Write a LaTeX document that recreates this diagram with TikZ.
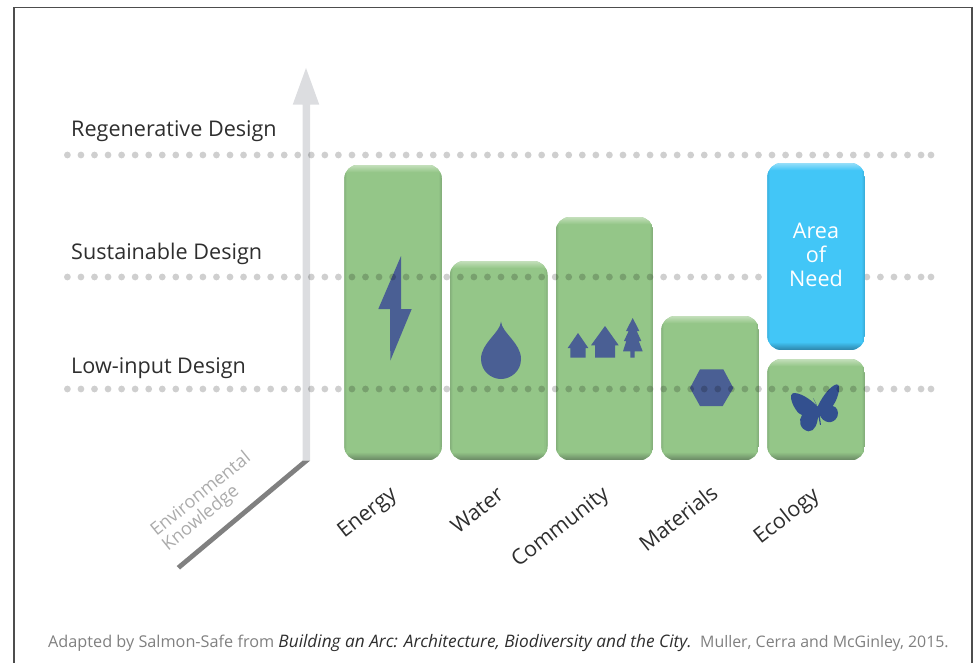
\documentclass[tikz,border=0pt]{standalone}
\usepackage{fontspec}
\setmainfont{Open Sans}
\definecolor{boxgreen}{HTML}{94C688}
\definecolor{boxgreenhi}{HTML}{C4DFBB}
\definecolor{boxgreenlo}{HTML}{6E8F68}
\definecolor{boxblue}{HTML}{42C6F7}
\definecolor{boxbluehi}{HTML}{96DEF9}
\definecolor{boxbluelo}{HTML}{2F8CB2}
\definecolor{iconblue}{HTML}{4A5F94}
\definecolor{flyblue}{HTML}{33508F}
\definecolor{axislight}{HTML}{DCDDE0}
\definecolor{axisdark}{HTML}{808080}
\definecolor{labeldark}{HTML}{2E2E2E}
\tikzset{
  x=1pt,y=-1pt,
  levellabel/.style={font=\fontsize{21.6}{22}\selectfont,text=labeldark,anchor=base west,inner sep=0pt},
  catlabel/.style={font=\fontsize{21.4}{22}\selectfont,text=labeldark,rotate=38,inner sep=0pt},
  icon/.style={fill=iconblue,draw=none},
  dotmark/.style={fill=black,fill opacity=.19,draw=none},
}
\newcommand{\barnode}[7]{% name, x, ytop, ybot, fill, hi, lo
  \begin{scope}
    \clip[rounded corners=14pt] (#2,#3) rectangle ({#2+97.5},#4);
    \fill[#5] (#2,#3) rectangle ({#2+97.5},#4);
    \foreach \s in {0,...,7}{
      \pgfmathtruncatemacro{\mixv}{100-\s*14}
      \fill[#6!\mixv!#5] (#2,{#3+\s}) rectangle ({#2+97.5},{#3+\s+1.1});
    }
    \foreach \s in {0,...,7}{
      \pgfmathtruncatemacro{\mixv}{100-\s*14}
      \fill[#7!\mixv!#5] (#2,{#4-\s-1.1}) rectangle ({#2+97.5},{#4-\s});
    }
    \foreach \s in {0,1,2}{
      \pgfmathtruncatemacro{\mixv}{40-\s*15}
      \fill[#7!\mixv!#5] ({#2+\s},{#3+8}) rectangle ({#2+\s+1.1},{#4-8});
      \fill[#7!\mixv!#5] ({#2+97.5-\s-1.1},{#3+8}) rectangle ({#2+97.5-\s},{#4-8});
    }
  \end{scope}
  \node[inner sep=0pt,draw=none,anchor=north west,minimum width=97.5pt,minimum height={#4pt-#3pt}] (#1) at (#2,#3) {};
}
\newcommand{\dotrow}[1]{%
  \foreach \k in {0,...,63}{ \fill[dotmark] ({67.4+13.55*\k},#1) circle (3.4); }
  \fill[dotmark] (931,#1) circle (3.4);
}
\begin{document}
\begin{tikzpicture}
\useasboundingbox (0,0) rectangle (976,663);
% frame
\draw[line width=1.2pt,color=labeldark!85] (14,663) -- (14,7.5) -- (972,7.5) -- (972,663);
% axes
\fill[axislight] (302.5,460.7) -- (302.5,104.7) -- (292.7,104.7) -- (306,68) -- (319.3,104.7) -- (310,104.7) -- (310,460.7) -- cycle;
\fill[axisdark] (302.5,460.7) -- (310,460.7) -- (180,569.5) -- (176.7,566) -- cycle;
% bars
\barnode{energy}{344.3}{164.7}{460.3}{boxgreen}{boxgreenhi}{boxgreenlo}
\barnode{water}{450}{261}{460.3}{boxgreen}{boxgreenhi}{boxgreenlo}
\barnode{community}{555.8}{217}{460.3}{boxgreen}{boxgreenhi}{boxgreenlo}
\barnode{materials}{661.3}{316}{460.3}{boxgreen}{boxgreenhi}{boxgreenlo}
\barnode{ecology}{767.3}{359}{460.3}{boxgreen}{boxgreenhi}{boxgreenlo}
% icons
\fill[icon] (401,256) -- (378.3,309) -- (390,309) -- (390.3,360.7) -- (411.7,309) -- (401,309) -- cycle;
\fill[icon] (501,321.7) .. controls (502,333) and (521,343) .. (521,359) .. controls (521,371) and (511,379) .. (501,379) .. controls (491,379) and (481,371) .. (481,359) .. controls (481,343) and (500,333) .. (501,321.7) -- cycle;
\fill[icon] (578,333) -- (588.3,348) -- (585.7,348) -- (585.7,357.7) -- (570.3,357.7) -- (570.3,348) -- (567.7,348) -- cycle;
\fill[icon] (605,326) -- (618.7,345.3) -- (615,345.3) -- (615,357.7) -- (595,357.7) -- (595,345.3) -- (591,345.3) -- cycle;
\fill[icon] (632.7,318) -- (639.3,331) -- (636.7,331) -- (641.3,341) -- (638.7,341) -- (642.7,351.3) -- (634.7,351.3) -- (634.7,357.7) -- (630.3,357.7) -- (630.3,351.3) -- (623,351.3) -- (626.3,341) -- (624,341) -- (628.7,331) -- (626,331) -- cycle;
\fill[icon] (690,388) -- (700,369.3) -- (723.3,369.3) -- (733.3,388) -- (722.7,406) -- (700,406) -- cycle;
\begin{scope}[shift={(780,370)},scale=0.3333]
  \fill[flyblue] (113,110) .. controls (90,85) and (55,65) .. (38,70) .. controls (28,75) and (33,95) .. (45,115) .. controls (50,125) and (55,130) .. (66,135) .. controls (55,150) and (58,178) .. (85,184) .. controls (105,185) and (112,160) .. (115,138) -- (120,165) -- (123,165) -- (119,135) .. controls (130,160) and (160,165) .. (172,140) .. controls (178,125) and (170,110) .. (158,108) .. controls (172,90) and (182,55) .. (175,45) .. controls (165,35) and (130,70) .. (113,110) -- cycle;
  \draw[flyblue,line width=.3pt] (110,105) -- (100,85);
\end{scope}
% dots
\dotrow{155}
\dotrow{277}
\dotrow{389}
% need box on top
\barnode{need}{767.3}{163}{350}{boxblue}{boxbluehi}{boxbluelo}
\node[font=\fontsize{21.6}{24}\selectfont,text=white,align=center,inner sep=0pt] (needtext) at (816,255) {Area\\of\\Need};
% level labels
\node[levellabel] (regen) at (71,137) {Regenerative Design};
\node[levellabel] (sust) at (71,259) {Sustainable Design};
\node[levellabel] (low) at (71,373) {Low-input Design};
% category labels
\node[catlabel] (l1) at (368,514) {Energy};
\node[catlabel] (l2) at (477,510) {Water};
\node[catlabel] (l3) at (561,528) {Community};
\node[catlabel] (l4) at (678,518) {Materials};
\node[catlabel] (l5) at (787,517) {Ecology};
\node[font=\fontsize{18}{18.5}\selectfont,text=black!33,rotate=39,align=left,inner sep=0pt] (env) at (207,502) {Environmental\\Knowledge};
% source
\node[font=\fontsize{16.25}{17}\selectfont,text=black!50,anchor=base west,inner sep=0pt] (src) at (48,647) {Adapted by Salmon-Safe from {\fontsize{17.25}{17}\selectfont\textcolor{labeldark}{\itshape Building an Arc: Architecture, Biodiversity and the City.}}\ \ {\fontsize{15.9}{17}\selectfont Muller, Cerra and McGinley, 2015.}};
\end{tikzpicture}
\end{document}
